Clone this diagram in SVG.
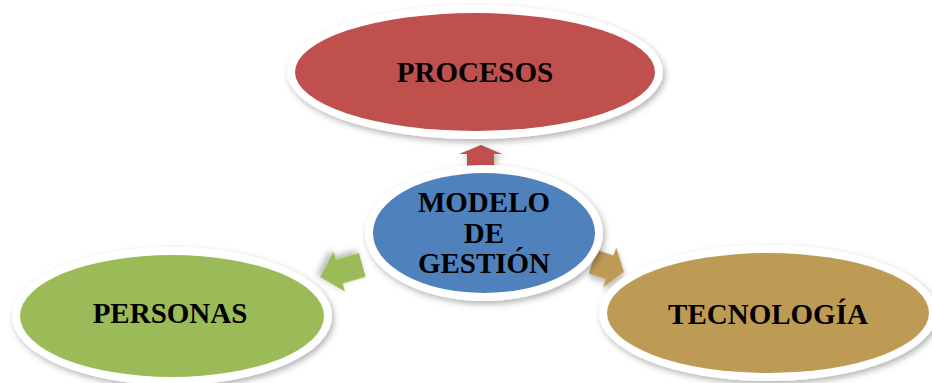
<svg xmlns="http://www.w3.org/2000/svg" width="932" height="383" viewBox="0 0 932 383">
<defs>
<filter id="sh" x="-10%" y="-15%" width="125%" height="140%">
<feDropShadow dx="2" dy="3" stdDeviation="3" flood-color="#000" flood-opacity="0.3"/>
</filter>
<polygon id="arr" points="0,0 -20,-21 -20,-12.5 -44,-12.5 -44,12.5 -20,12.5 -20,21"/>
</defs>
<style>
.ring{fill:#fff;filter:url(#sh)}
.lbl{font-family:"Liberation Serif","Times New Roman",serif;font-weight:bold;font-size:29px;fill:#000;text-anchor:middle}
</style>
<rect width="932" height="383" fill="#fff"/>
<g id="connectors">
<polygon points="481,145 502,154 494,154 494,166 467,166 467,154 459,154" fill="#C0504D" filter="url(#sh)"/>
<use href="#arr" transform="translate(320,277) rotate(164)" fill="#9BBB59" filter="url(#sh)"/>
<use href="#arr" transform="translate(624,272) rotate(18) scale(0.75,1)" fill="#BE9B55" filter="url(#sh)"/>
</g>
<g id="procesos">
<ellipse class="ring" cx="475" cy="72" rx="188" ry="67"/>
<ellipse cx="475" cy="72" rx="180" ry="59" fill="#C0504D"/>
<text class="lbl" x="475" y="82">PROCESOS</text>
</g>
<g id="modelo">
<ellipse class="ring" cx="484" cy="233" rx="119" ry="68"/>
<ellipse cx="484" cy="233" rx="111" ry="60" fill="#4F81BD"/>
<text class="lbl" x="484" y="212">MODELO</text>
<text class="lbl" x="484" y="243">DE</text>
<text class="lbl" x="484" y="273">GESTIÓN</text>
</g>
<g id="personas">
<ellipse class="ring" cx="172" cy="316" rx="160" ry="69"/>
<ellipse cx="172" cy="316" rx="152" ry="61" fill="#9BBB59"/>
<text class="lbl" x="170" y="323">PERSONAS</text>
</g>
<g id="tecnologia">
<ellipse class="ring" cx="768" cy="313" rx="169" ry="68"/>
<ellipse cx="768" cy="313" rx="161" ry="60" fill="#BE9B55"/>
<text class="lbl" x="768" y="324">TECNOLOGÍA</text>
</g>
</svg>
